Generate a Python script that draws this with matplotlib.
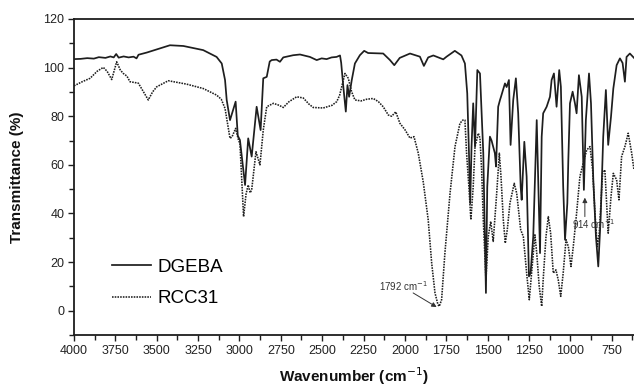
import matplotlib
matplotlib.use("Agg")
import matplotlib.pyplot as plt
from matplotlib.ticker import MultipleLocator

plt.rcParams["font.family"] = ["Liberation Sans", "DejaVu Sans"]

# FTIR spectra: wavenumber (cm-1) and transmittance (%)
dgeba_wn = [4000, 3960, 3920, 3880, 3850, 3810, 3780, 3760, 3745, 3730, 3700,
            3670, 3640, 3622, 3610, 3560, 3500, 3420, 3339, 3219, 3138, 3107,
            3087, 3077, 3057, 3023, 3010, 2997, 2980, 2966, 2947, 2926, 2896,
            2872, 2856, 2835, 2817, 2805, 2776, 2755, 2735, 2675, 2634, 2574,
            2533, 2503, 2473, 2443, 2413, 2392, 2385, 2372, 2357, 2347, 2337,
            2321, 2302, 2272, 2246, 2222, 2131, 2090, 2064, 2031, 1969, 1909,
            1885, 1859, 1828, 1768, 1748, 1698, 1658, 1637, 1623, 1613, 1605,
            1597, 1587, 1576, 1562, 1546, 1526, 1510, 1502, 1486, 1476, 1456,
            1449, 1436, 1425, 1419, 1395, 1385, 1371, 1361, 1345, 1329, 1315,
            1300, 1294, 1278, 1264, 1250, 1240, 1224, 1203, 1194, 1183, 1173,
            1164, 1143, 1123, 1113, 1099, 1083, 1067, 1057, 1043, 1032, 1018,
            1012, 1002, 986, 972, 962, 948, 931, 918, 906, 887, 875, 861, 845,
            831, 817, 801, 785, 771, 754, 740, 720, 700, 684, 670, 660, 640, 615]
dgeba_t = [103.5, 103.6, 103.9, 103.7, 104.3, 104.0, 104.6, 104.2, 105.6, 104.1,
           104.6, 104.2, 104.5, 103.8, 105.3, 106.2, 107.5, 109.2, 108.9, 107.2,
           104.4, 101.7, 94.9, 86.7, 78.4, 86.0, 72.0, 70.2, 60.0, 51.7, 70.9,
           63.4, 83.9, 74.3, 95.6, 96.2, 102.5, 103.1, 103.3, 102.4, 104.2,
           105.1, 105.4, 104.4, 103.1, 103.8, 103.5, 104.2, 104.4, 105.0, 102.0,
           92.1, 81.9, 92.8, 88.0, 94.9, 101.7, 105.1, 106.9, 106.0, 105.8,
           103.1, 101.0, 104.0, 105.8, 104.5, 100.7, 104.2, 105.0, 103.4, 104.5,
           106.9, 105.0, 101.7, 89.4, 66.0, 44.2, 67.5, 85.3, 67.5, 99.0, 97.6,
           64.8, 7.3, 51.0, 71.6, 70.0, 64.8, 59.3, 83.9, 86.7, 88.0, 93.5, 92.0,
           94.9, 68.2, 86.7, 95.6, 81.2, 51.0, 45.6, 69.5, 55.2, 14.1, 15.5,
           30.5, 78.4, 53.8, 23.7, 71.6, 81.2, 83.9, 88.0, 94.9, 97.6, 83.9,
           99.0, 92.1, 51.0, 29.2, 44.2, 62.0, 85.3, 90.1, 85.3, 81.2, 96.9,
           88.0, 49.7, 78.4, 97.6, 85.3, 53.8, 30.5, 18.2, 37.4, 71.6, 90.8,
           68.2, 79.8, 91.4, 101.0, 103.8, 101.9, 94.2, 104.4, 105.8, 104.0]

rcc31_wn = [4000, 3950, 3903, 3860, 3823, 3800, 3772, 3742, 3720, 3702, 3680,
            3662, 3611, 3580, 3551, 3525, 3500, 3430, 3319, 3219, 3138, 3110,
            3087, 3057, 3045, 3023, 3005, 2997, 2975, 2960, 2947, 2935, 2926,
            2900, 2876, 2856, 2835, 2795, 2760, 2735, 2700, 2654, 2614, 2580,
            2554, 2493, 2440, 2412, 2395, 2382, 2362, 2342, 2322, 2302, 2265,
            2230, 2191, 2160, 2131, 2100, 2080, 2055, 2030, 2000, 1969, 1945,
            1919, 1889, 1859, 1838, 1818, 1800, 1792, 1778, 1758, 1727, 1697,
            1667, 1650, 1637, 1627, 1613, 1601, 1587, 1576, 1556, 1546, 1536,
            1526, 1510, 1496, 1481, 1466, 1445, 1429, 1419, 1405, 1393, 1381,
            1365, 1339, 1324, 1315, 1300, 1284, 1264, 1248, 1234, 1214, 1203,
            1188, 1173, 1164, 1147, 1133, 1119, 1103, 1087, 1073, 1058, 1043,
            1026, 1012, 996, 982, 962, 942, 922, 901, 881, 865, 851, 837, 825,
            805, 791, 771, 754, 740, 720, 706, 690, 670, 650, 629, 615]
rcc31_t = [92.5, 94.2, 95.6, 98.5, 100.1, 98.5, 95.1, 102.4, 99.0, 97.6, 96.5,
           94.2, 93.6, 90.0, 86.7, 90.0, 92.1, 94.6, 93.2, 91.4, 88.7, 87.0,
           83.2, 70.9, 71.5, 75.0, 70.0, 68.9, 38.7, 48.0, 51.7, 48.5, 49.7,
           65.4, 60.0, 74.3, 83.9, 85.3, 84.5, 83.6, 86.0, 88.0, 87.5, 85.0,
           83.6, 83.4, 84.5, 86.0, 88.5, 92.1, 97.6, 95.6, 90.1, 86.7, 86.3,
           87.0, 87.3, 86.0, 83.9, 80.5, 80.0, 81.8, 77.1, 74.5, 71.0, 71.6,
           64.8, 53.0, 37.4, 19.6, 7.3, 2.5, 1.8, 4.5, 23.7, 48.3, 67.5, 77.1,
           78.4, 78.4, 64.8, 51.0, 37.4, 51.0, 67.5, 73.0, 71.0, 57.9, 37.4,
           12.7, 30.5, 36.7, 28.5, 48.3, 64.8, 55.2, 37.4, 27.8, 33.3, 44.2,
           52.4, 48.3, 42.8, 33.3, 30.5, 15.5, 4.5, 15.5, 31.2, 23.7, 10.0, 1.8,
           12.7, 30.5, 38.7, 31.9, 15.5, 16.8, 12.7, 5.9, 15.5, 29.2, 26.4,
           18.2, 26.4, 40.1, 55.2, 60.7, 66.1, 67.5, 57.9, 40.1, 26.4, 31.9,
           56.5, 57.9, 31.9, 46.9, 56.5, 53.8, 45.6, 63.4, 67.5, 73.0, 64.8, 57.9]

fig = plt.figure(figsize=(6.34, 3.86), dpi=100)
ax = fig.add_axes([74 / 634, 51 / 386, 560 / 634, 316 / 386])

ink = "#1e1e1e"
ax.plot(dgeba_wn, dgeba_t, color=ink, lw=1.25, label="DGEBA")
ax.plot(rcc31_wn, rcc31_t, color=ink, lw=1.15, linestyle=(0, (1, 0.7)),
        label="RCC31")

ax.set_xlim(4000, 615)
ax.set_ylim(-10, 120)
ax.xaxis.set_major_locator(MultipleLocator(250))
ax.xaxis.set_minor_locator(MultipleLocator(125))
ax.yaxis.set_major_locator(MultipleLocator(20))
ax.yaxis.set_minor_locator(MultipleLocator(10))
ax.tick_params(which="both", direction="out", width=1.0, color=ink,
               labelsize=9, labelcolor="#222222")
ax.tick_params(which="major", length=4, pad=3)
ax.tick_params(which="minor", length=3.5)
ax.spines["right"].set_visible(False)
for side in ("left", "bottom", "top"):
    ax.spines[side].set_linewidth(1.3)
    ax.spines[side].set_color(ink)

fig.text(17 / 634, 0.54, "Transmittance (%)", rotation=90, ha="center",
         va="center", fontsize=11, fontweight="bold", color="#111111")
fig.text(354 / 634, 10 / 386, "Wavenumber (cm$^{-1}$)", ha="center",
         va="center", fontsize=11, fontweight="bold", color="#111111")

ax.legend(loc="center left", bbox_to_anchor=(0.067, 0.165), frameon=False,
          fontsize=13.5, handlelength=2.1, handletextpad=0.35,
          labelspacing=0.77, borderpad=0, borderaxespad=0)

# band annotations
ax.annotate("", xy=(1808, 1.5), xytext=(1950, 7.3),
            arrowprops=dict(arrowstyle="-|>", lw=0.7, color="#333333",
                            mutation_scale=7, shrinkA=0, shrinkB=0))
ax.text(1860, 10.3, "1792 cm$^{-1}$", ha="right", va="center", fontsize=7,
        color="#333333")
ax.annotate("", xy=(912, 46.5), xytext=(912, 38.7),
            arrowprops=dict(arrowstyle="-|>", lw=0.7, color="#333333",
                            mutation_scale=7, shrinkA=0, shrinkB=0))
ax.text(857, 35.6, "914 cm$^{-1}$", ha="center", va="center", fontsize=7,
        color="#333333")

fig.savefig("out.png", dpi=100)
